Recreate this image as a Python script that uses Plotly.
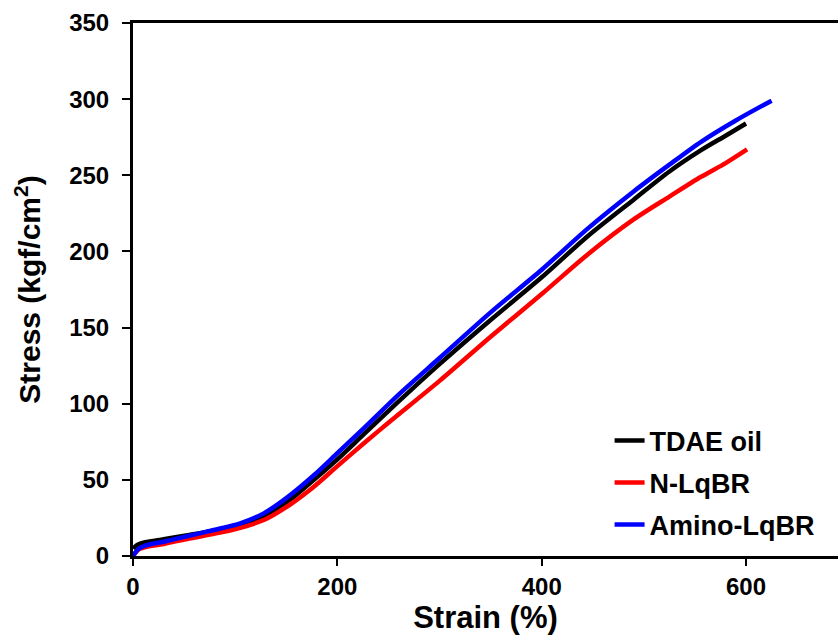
import plotly.graph_objects as go

# Strain (%) / Stress (kgf/cm2)
tdae_strain = [0, 5, 12, 30, 55, 79, 105, 128, 152, 177, 200, 226, 260, 300, 350, 400, 445, 490, 525, 556, 580, 600]
tdae_stress = [5, 7.5, 9.0, 11, 13.8, 16.6, 20.5, 26.3, 36, 50, 63.5, 80, 101.5, 126, 155, 183, 210, 234, 252.5, 266.5, 276, 284]

nlqbr_strain = [0, 5, 12, 30, 55, 79, 105, 128, 152, 177, 200, 226, 250, 300, 350, 400, 445, 490, 525, 556, 580, 601]
nlqbr_stress = [0, 4.0, 5.8, 7.9, 11.5, 14.5, 18.5, 23.6, 33, 45.5, 59, 74, 87.5, 115, 144, 172, 198, 221, 236, 249, 258, 267]

amino_strain = [0, 5, 12, 30, 55, 79, 105, 128, 152, 177, 200, 226, 260, 300, 350, 400, 445, 490, 525, 556, 590, 625]
amino_stress = [0, 4.5, 6.8, 9.4, 13.3, 17.1, 21.5, 28, 39, 53, 67.5, 84, 106, 130, 160, 188, 215, 239.4, 257, 272, 286, 299]

series_names = ["TDAE oil", "N-LqBR", "Amino-LqBR"]
series_colors = ["#000000", "#ff0000", "#0000ff"]

x_ticks = [0, 200, 400, 600]
y_ticks = [0, 50, 100, 150, 200, 250, 300, 350]

FONT = "Liberation Sans, Arial, sans-serif"

fig = go.Figure()
data = [(tdae_strain, tdae_stress), (nlqbr_strain, nlqbr_stress), (amino_strain, amino_stress)]
for i, ((xs, ys), name, col) in enumerate(zip(data, series_names, series_colors)):
    fig.add_trace(go.Scatter(
        x=xs, y=ys, mode="lines", name=name, legendgroup=f"g{i}",
        line=dict(color=col, width=4.5, shape="spline", smoothing=0.8),
    ))

fig.update_layout(
    width=838, height=637,
    margin=dict(l=133, r=0, t=23, b=81),
    paper_bgcolor="white", plot_bgcolor="white",
    showlegend=True,
    legend=dict(
        x=0.676, y=0.262, xanchor="left", yanchor="top",
        bgcolor="rgba(0,0,0,0)",
        font=dict(family=FONT, size=27, color="black", weight="bold"),
        tracegroupgap=4,
    ),
    xaxis=dict(
        range=[0, 690], tickvals=x_ticks, ticktext=[str(v) for v in x_ticks],
        showline=True, linecolor="black", linewidth=3, mirror=True,
        ticks="outside", ticklen=7, tickwidth=2, tickcolor="black",
        showgrid=False, zeroline=False,
        tickfont=dict(family=FONT, size=24, color="black", weight="bold"),
        title=dict(text="Strain (%)", standoff=2,
                   font=dict(family=FONT, size=31, color="black", weight="bold")),
    ),
    yaxis=dict(
        range=[0, 350], tickvals=y_ticks, ticktext=[str(v) for v in y_ticks],
        showline=True, linecolor="black", linewidth=3,
        ticks="outside", ticklen=8, tickwidth=2, tickcolor="black",
        showgrid=False, zeroline=False, ticklabelstandoff=8,
        tickfont=dict(family=FONT, size=24, color="black", weight="bold"),
        title=dict(text="Stress (kgf/cm<sup>2</sup>)", standoff=20,
                   font=dict(family=FONT, size=30, color="black", weight="bold")),
    ),
)

fig.write_html("out.html")
